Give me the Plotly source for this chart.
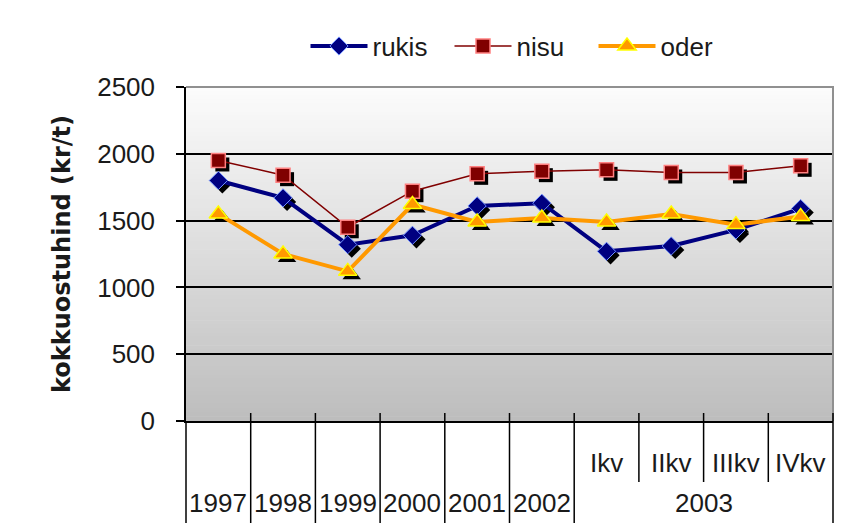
import plotly.graph_objects as go

# Purchase price of grain, kr/t
years = ["1997", "1998", "1999", "2000", "2001", "2002", "2003", "2003", "2003", "2003"]
quarters = ["", "", "", "", "", "", "Ikv", "IIkv", "IIIkv", "IVkv"]
rukis = [1800, 1670, 1320, 1390, 1610, 1630, 1270, 1310, 1430, 1590]
nisu = [1950, 1840, 1450, 1720, 1850, 1870, 1880, 1860, 1860, 1910]
oder = [1550, 1250, 1120, 1620, 1490, 1520, 1490, 1550, 1470, 1530]

series = [
    ("rukis", rukis, dict(color="#000080", width=4), dict(symbol="diamond", size=14, color="#000080", line=dict(color="#6f8fff", width=1))),
    ("nisu", nisu, dict(color="#800000", width=1.5), dict(symbol="square", size=14, color="#800000", line=dict(color="#ff8080", width=1.5))),
    ("oder", oder, dict(color="#ff9900", width=4), dict(symbol="triangle-up", size=16, color="#ff9900", line=dict(color="#ffff00", width=1.5))),
]

FONT = "Liberation Sans, Arial, sans-serif"
W, H = 848, 523
L, R, T, B = 186, 11, 87, 98
pw, ph = W - L - R, H - T - B
sx, sy = 4 / pw, 4 / ph  # drop-shadow offset
n = len(years)
XR = [-0.5, n - 0.5]

# one unique category per point: the quarter where given, else the year
cats = [q if q else y for y, q in zip(years, quarters)]

fig = go.Figure()

# drop shadows of the markers (drawn on an offset, hidden subplot)
for name, vals, line, marker in series:
    fig.add_trace(go.Scatter(
        x=cats, y=vals, mode="markers", showlegend=False, hoverinfo="skip",
        marker=dict(symbol=marker["symbol"], size=marker["size"], color="black"),
        xaxis="x", yaxis="y"))

for name, vals, line, marker in series:
    fig.add_trace(go.Scatter(
        x=cats, y=vals, name=name, mode="lines+markers",
        line=line, marker=marker, xaxis="x2", yaxis="y2"))

shapes = []
# vertical grey gradient behind the plot area
nb = 80
top, bot = (252, 252, 252), (189, 189, 189)
for i in range(nb):
    f = (i + 0.5) / nb
    c = tuple(round(top[k] + (bot[k] - top[k]) * f) for k in range(3))
    shapes.append(dict(type="rect", xref="x2 domain", yref="y2 domain",
                       x0=0, x1=1, y0=1 - (i + 1) / nb, y1=1 - i / nb + 0.002,
                       fillcolor="rgb(%d,%d,%d)" % c, line=dict(width=0), layer="below"))
# grey frame on top and right
shapes.append(dict(type="path", xref="x2 domain", yref="y2 domain",
                   path="M 0 1 L 1 1 L 1 0", line=dict(color="#909090", width=2), layer="above"))

# category boundaries: short ticks between quarters, full dividers between years
dom_h = ph - 4
inner_len = 61 / dom_h
outer_len = 104 / dom_h
up = 8 / dom_h
for k in range(n + 1):
    edge = k == 0 or k == n or years[k - 1] != years[k]
    shapes.append(dict(type="line", xref="x2 domain", yref="y2 domain",
                       x0=k / n, x1=k / n, y0=up if k > 0 else 0,
                       y1=-(outer_len if edge else inner_len),
                       line=dict(color="black", width=1.5), layer="above"))

# two rows of category labels
annotations = []
for i, q in enumerate(quarters):
    if q:
        annotations.append(dict(text=q, x=i, xref="x2", y=0, yref="y2 domain",
                                yanchor="middle", yshift=-42, showarrow=False,
                                font=dict(size=26)))
groups = []
for i, y in enumerate(years):
    if groups and groups[-1][0] == y:
        groups[-1][1].append(i)
    else:
        groups.append((y, [i]))
for y, idx in groups:
    annotations.append(dict(text=y, x=sum(idx) / len(idx), xref="x2", y=0, yref="y2 domain",
                            yanchor="middle", yshift=-82, showarrow=False,
                            font=dict(size=26)))

hidden = dict(visible=False, showgrid=False, zeroline=False)
fig.update_layout(
    width=W, height=H,
    margin=dict(l=L, r=R, t=T, b=B),
    paper_bgcolor="white", plot_bgcolor="rgba(0,0,0,0)",
    font=dict(family=FONT, size=26, color="#1a1a1a"),
    showlegend=True,
    legend=dict(orientation="h", x=0.5 * (1 - sx) + 12 / pw, xanchor="center", y=1.121,
                yanchor="middle", yref="paper", font=dict(size=26), bgcolor="rgba(0,0,0,0)",
                itemwidth=57, entrywidth=72, entrywidthmode="pixels", tracegroupgap=0),
    xaxis=dict(domain=[sx, 1], anchor="y", type="category", range=XR, **hidden),
    yaxis=dict(domain=[0, 1 - sy], anchor="x", range=[0, 2500], **hidden),
    xaxis2=dict(domain=[0, 1 - sx], anchor="y2", type="category", range=XR,
                showline=True, linecolor="black", linewidth=1.5,
                ticks="", showticklabels=False, showgrid=False),
    yaxis2=dict(domain=[sy, 1], anchor="x2", range=[0, 2500], dtick=500,
                showline=True, linecolor="black", linewidth=1.5,
                ticks="outside", ticklen=8, tickcolor="black", tickwidth=1.5,
                showgrid=True, gridcolor="black", gridwidth=1.5, zeroline=False,
                tickfont=dict(size=26), ticklabelstandoff=16,
                title=dict(text="<b>kokkuostuhind (kr/t)</b>",
                           font=dict(family="DejaVu Sans, sans-serif", size=24), standoff=20)),
    shapes=shapes,
    annotations=annotations,
)

fig.write_html("out.html")
